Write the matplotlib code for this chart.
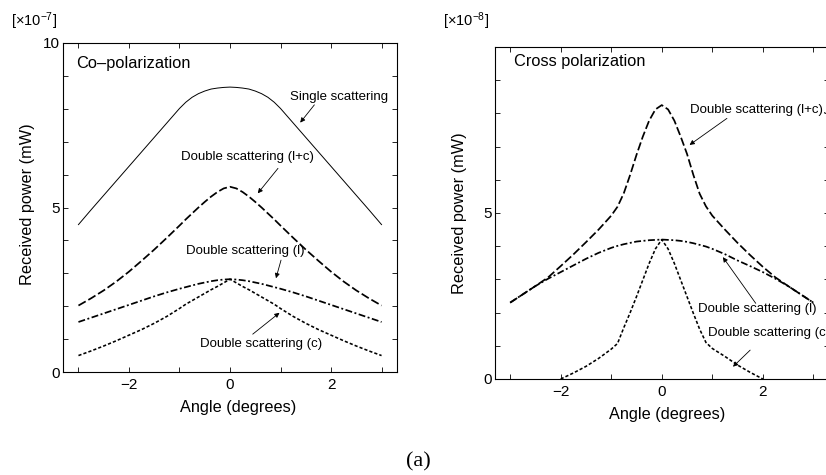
# -*- coding: utf-8 -*-
import matplotlib
matplotlib.use('Agg')
import matplotlib.pyplot as plt
from matplotlib.ticker import FixedLocator

plt.rcParams['font.family'] = ['Liberation Sans', 'DejaVu Sans']
plt.rcParams['mathtext.fontset'] = 'custom'
plt.rcParams['mathtext.rm'] = 'Liberation Sans'
plt.rcParams['mathtext.default'] = 'regular'
plt.rcParams['lines.scale_dashes'] = False
plt.rcParams['axes.unicode_minus'] = True


# %% data -----------------------------------------------------------------------

# co-polarization [x1e-7 mW]
ang_co = [-3, -2.75, -2.5, -2.25, -2, -1.75, -1.5, -1.25,
          -1, -0.875, -0.75, -0.625, -0.5, -0.375, -0.25, -0.125, 0,
          0.125, 0.25, 0.375, 0.5, 0.625, 0.75, 0.875, 1,
          1.25, 1.5, 1.75, 2, 2.25, 2.5, 2.75, 3]
co_single = [4.48, 4.93, 5.37, 5.81, 6.25, 6.69, 7.13, 7.57,
             8.01, 8.2, 8.35, 8.46, 8.54, 8.6, 8.63, 8.65, 8.66,
             8.65, 8.63, 8.6, 8.54, 8.46, 8.35, 8.2, 8.01,
             7.57, 7.13, 6.69, 6.25, 5.81, 5.37, 4.93, 4.48]
co_lc = [2.02, 2.24, 2.48, 2.75, 3.05, 3.38, 3.72, 4.08,
         4.45, 4.64, 4.82, 5.0, 5.17, 5.33, 5.47, 5.58, 5.63,
         5.58, 5.47, 5.33, 5.17, 5.0, 4.82, 4.64, 4.45,
         4.08, 3.72, 3.38, 3.05, 2.75, 2.48, 2.24, 2.02]
co_l = [1.52, 1.65, 1.78, 1.91, 2.04, 2.17, 2.3, 2.42,
        2.53, 2.58, 2.63, 2.68, 2.72, 2.76, 2.79, 2.81, 2.82,
        2.81, 2.79, 2.76, 2.72, 2.68, 2.63, 2.58, 2.53,
        2.42, 2.3, 2.17, 2.04, 1.91, 1.78, 1.65, 1.52]
co_c = [0.5, 0.64, 0.79, 0.95, 1.12, 1.29, 1.48, 1.69,
        1.93, 2.06, 2.17, 2.28, 2.39, 2.5, 2.6, 2.71, 2.82,
        2.71, 2.6, 2.5, 2.39, 2.28, 2.17, 2.06, 1.93,
        1.69, 1.48, 1.29, 1.12, 0.95, 0.79, 0.64, 0.5]

# cross polarization [x1e-8 mW]
ang_cr = [-3, -2.75, -2.5, -2.25, -2, -1.75, -1.5, -1.25,
          -1, -0.875, -0.75, -0.625, -0.5, -0.375, -0.25, -0.125, 0,
          0.125, 0.25, 0.375, 0.5, 0.625, 0.75, 0.875, 1,
          1.25, 1.5, 1.75, 2, 2.25, 2.5, 2.75, 3]
cr_lc = [2.3, 2.55, 2.8, 3.06, 3.4, 3.75, 4.12, 4.5,
         4.92, 5.19, 5.6, 6.15, 6.75, 7.3, 7.78, 8.12, 8.25,
         8.12, 7.78, 7.3, 6.78, 6.15, 5.58, 5.2, 4.92,
         4.5, 4.1, 3.73, 3.38, 3.06, 2.8, 2.55, 2.3]
cr_l = [2.3, 2.55, 2.8, 3.02, 3.22, 3.42, 3.62, 3.8,
        3.95, 4.01, 4.06, 4.1, 4.14, 4.16, 4.18, 4.19, 4.2,
        4.19, 4.18, 4.16, 4.13, 4.09, 4.04, 3.99, 3.92,
        3.76, 3.57, 3.4, 3.22, 3.02, 2.8, 2.55, 2.3]
ang_cr_c = [-2, -1.75, -1.5, -1.25,
            -1, -0.875, -0.75, -0.625, -0.5, -0.375, -0.25, -0.125, 0,
            0.125, 0.25, 0.375, 0.5, 0.625, 0.75, 0.875, 1,
            1.25, 1.5, 1.75, 2]
cr_c = [0, 0.18, 0.38, 0.62,
        0.9, 1.07, 1.55, 2.0, 2.48, 2.98, 3.48, 3.92, 4.2,
        3.92, 3.48, 2.98, 2.48, 1.98, 1.5, 1.1, 0.92,
        0.68, 0.42, 0.2, 0]


# %% figure ---------------------------------------------------------------------

fig = plt.figure(figsize=(8.26, 4.75), dpi=100)

ax0 = fig.add_axes([63.3/826, (475-372)/475, 333.4/826, 329/475])
ax1 = fig.add_axes([495/826, (475-379)/475, 333.5/826, 332/475])

sty_single = dict(ls='-', lw=0.7, color='k')
sty_lc = dict(ls=(0, (6, 2.2)), lw=1.25, color='k')
sty_l = dict(ls=(0, (5, 1.8, 1.4, 1.8)), lw=1.25, color='k')
sty_c = dict(ls=(0, (2.3, 1.5)), lw=1.15, color='k')

arr = dict(arrowstyle='-|>', lw=0.6, color='k', mutation_scale=7,
           shrinkA=0, shrinkB=0)
fs_ann = 9.5

#------------------
ax0.plot(ang_co, co_single, **sty_single)
ax0.plot(ang_co, co_lc, **sty_lc)
ax0.plot(ang_co, co_l, **sty_l)
ax0.plot(ang_co, co_c, **sty_c)

ax0.text(0.039, 0.938, u'Co\u2013polarization', transform=ax0.transAxes,
         fontsize=11.8, ha='left', va='center')

ax0.text(1.19, 8.35, 'Single scattering', fontsize=fs_ann, va='center')
ax0.annotate('', xy=(1.39, 7.58), xytext=(1.67, 8.12), arrowprops=arr)

ax0.text(-0.97, 6.52, 'Double scattering (l+c)', fontsize=fs_ann, va='center')
ax0.annotate('', xy=(0.55, 5.43), xytext=(0.95, 6.19), arrowprops=arr)

ax0.text(-0.87, 3.69, 'Double scattering (l)', fontsize=fs_ann, va='center')
ax0.annotate('', xy=(0.91, 2.85), xytext=(1.01, 3.4), arrowprops=arr)

ax0.text(-0.59, 0.85, 'Double scattering (c)', fontsize=fs_ann, va='center')
ax0.annotate('', xy=(0.98, 1.8), xytext=(0.45, 1.15), arrowprops=arr)

#------------------
ax1.plot(ang_cr, cr_lc, **sty_lc)
ax1.plot(ang_cr, cr_l, **sty_l)
ax1.plot(ang_cr_c, cr_c, **sty_c)

ax1.text(0.058, 0.956, 'Cross polarization', transform=ax1.transAxes,
         fontsize=11.8, ha='left', va='center')

ax1.text(0.55, 8.1, 'Double scattering (l+c).', fontsize=fs_ann, va='center')
ax1.annotate('', xy=(0.55, 7.05), xytext=(1.29, 7.85), arrowprops=arr)

ax1.text(0.71, 2.1, 'Double scattering (l)', fontsize=fs_ann, va='center')
ax1.annotate('', xy=(1.21, 3.67), xytext=(1.86, 2.28), arrowprops=arr)

# runs past the right edge of the figure, as in the original
ax1.text(0.91, 1.39, 'Double scattering (c)', fontsize=fs_ann, va='center')
ax1.annotate('', xy=(1.41, 0.37), xytext=(1.75, 0.87), arrowprops=arr)

#------------------
for ax in fig.get_axes():
    ax.set_xlim(-3.3, 3.3)
    ax.set_ylim(0, 10)
    ax.xaxis.set_major_locator(FixedLocator([-2, 0, 2]))
    ax.xaxis.set_minor_locator(FixedLocator([-3, -1, 1, 3]))
    ax.yaxis.set_minor_locator(FixedLocator(range(1, 10)))
    ax.tick_params(which='both', direction='in', top=True, right=True,
                   length=3.5, width=0.6, labelsize=11)
    ax.tick_params(axis='x', which='both', pad=4.5)
    ax.tick_params(axis='y', which='both', pad=2.5)
    for sp in ax.spines.values():
        sp.set_linewidth(0.8)
    ax.set_ylabel('Received power (mW)', fontsize=11.7)
    ax.set_xlabel('Angle (degrees)', fontsize=11.7)

ax0.yaxis.set_major_locator(FixedLocator([0, 5, 10]))
ax1.yaxis.set_major_locator(FixedLocator([0, 5]))

ax0.xaxis.set_label_coords(0.524, -0.085)
ax1.xaxis.set_label_coords(0.515, -0.084)
ax0.yaxis.set_label_coords(-0.085, 0.51)
ax1.yaxis.set_label_coords(-0.084, 0.5)

fig.text(11/826, 1 - 21/475, u'[\u00d710$^{\u22127}$]', fontsize=10.5,
         ha='left', va='center')
fig.text(443/826, 1 - 21/475, u'[\u00d710$^{\u22128}$]', fontsize=10.5,
         ha='left', va='center')

fig.text(418/826, 13/475, '(a)', fontsize=16, family='Liberation Serif',
         ha='center', va='center')

plt.savefig('out.png', dpi=100)
